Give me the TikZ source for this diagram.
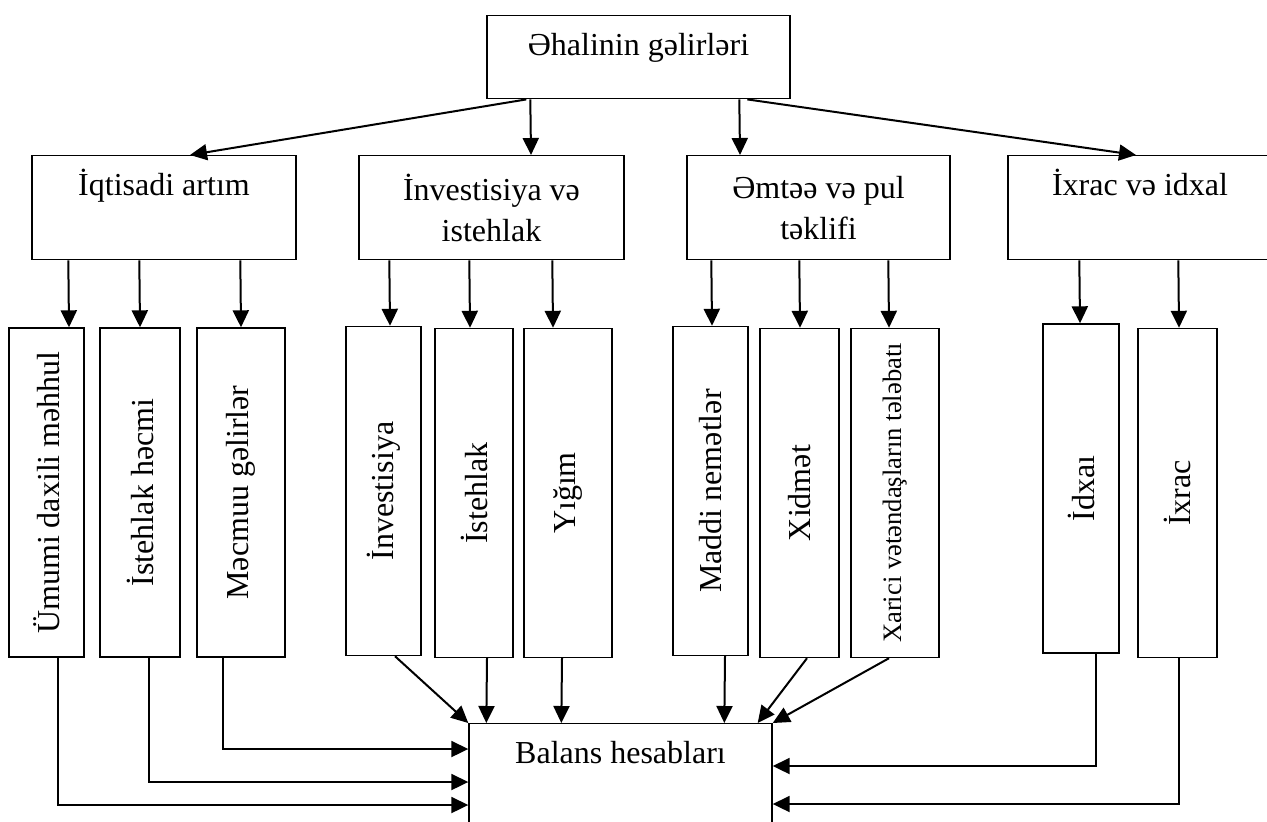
\documentclass[tikz,border=0pt]{standalone}
\usepackage{fontspec}
\setmainfont{Liberation Serif}
\usetikzlibrary{arrows.meta,calc}

\tikzset{
  box/.style={draw, line width=0.7pt, inner sep=0pt, align=center},
  topbox/.style={box, anchor=north, text height=20pt, text depth=#1},
  vbox/.style={draw, line width=0.7pt, inner sep=0pt, rotate=90, minimum width=164.5pt},
  arr/.style={line width=1pt, -{Triangle[length=8.5pt,width=8pt]}},
}

\begin{document}
\begin{tikzpicture}[x=0.5pt, y=-0.5pt, font=\fontsize{16}{20.5}\selectfont]
\useasboundingbox (0,0) rectangle (1267,821);

% yuxari
\node[topbox=21.5pt, minimum width=151.5pt] (gelir) at (638.5,15) {Əhalinin gəlirləri};

% ikinci sira
\node[topbox=32pt, minimum width=132pt] (artim) at (164,155) {İqtisadi artım};
\node[box, anchor=north, minimum width=132.5pt, minimum height=52pt] (invest) at (491.5,155) {İnvestisiya və\\istehlak};
\node[box, anchor=north, minimum width=131.5pt, minimum height=52pt] (emtee) at (818.5,155) {Əmtəə və pul\\təklifi};
\node[topbox=32pt, minimum width=132pt] (xarici) at (1140,155) {İxrac və idxal};

% ucuncu sira
\node[vbox, minimum height=37.5pt] (umumi) at (46.5,492.5) {Ümumi daxili məhhul};
\node[vbox, minimum height=40pt] (hecm) at (140,492.5) {İstehlak həcmi};
\node[vbox, minimum height=44pt] (mecmu) at (241,492.5) {Məcmuu gəlirlər};
\node[vbox, minimum height=37.5pt] (invsub) at (383.5,491) {İnvestisiya};
\node[vbox, minimum height=39pt] (istehlak) at (474,493) {İstehlak};
\node[vbox, minimum height=44pt] (yigim) at (568,493) {Yığım};
\node[vbox, minimum height=37.5pt] (maddi) at (710.5,491) {Maddi nemətlər};
\node[vbox, minimum height=39.5pt] (xidmet) at (799.5,493) {Xidmət};
\node[vbox, minimum height=44pt, font=\fontsize{13.3}{16}\selectfont] (telebat) at (895,493) {Xarici vətəndaşların tələbatı};
\node[vbox, minimum height=38pt] (idxal) at (1081,488.5) {İdxaı};
\node[vbox, minimum height=39.5pt] (ixrac) at (1177.5,493) {İxrac};

% asagi
\node[topbox=36pt, minimum width=151.5pt] (balans) at (620.5,723) {Balans hesabları};

% yuxaridan
\draw[arr] ($(gelir.south west)+(40,0)$) -- ($(artim.north)+(26,0)$);
\draw[arr] ($(gelir.south west)+(44,0)$) -- ($(invest.north)+(39.5,0)$);
\draw[arr] ($(gelir.south west)+(253,0)$) -- ($(emtee.north)+(-78.5,0)$);
\draw[arr] ($(gelir.south west)+(261,0)$) -- ($(xarici.north)+(-4,0)$);

% ikinci siradan
\draw[arr] ($(artim.south west)+(37,0)$) -- ($(umumi.east)+(22.5,0)$);
\draw[arr] ($(artim.south west)+(108,0)$) -- (hecm.east);
\draw[arr] ($(artim.south west)+(209,0)$) -- (mecmu.east);
\draw[arr] ($(invest.south west)+(31,0)$) -- ($(invsub.east)+(6.5,0)$);
\draw[arr] ($(invest.south west)+(111,0)$) -- ($(istehlak.east)+(-4,0)$);
\draw[arr] ($(invest.south west)+(194,0)$) -- ($(yigim.east)+(-15,0)$);
\draw[arr] ($(emtee.south west)+(25,0)$) -- ($(maddi.east)+(1.5,0)$);
\draw[arr] ($(emtee.south west)+(113,0)$) -- ($(xidmet.east)+(0.5,0)$);
\draw[arr] ($(emtee.south west)+(202,0)$) -- ($(telebat.east)+(-6,0)$);
\draw[arr] ($(xarici.south west)+(72,0)$) -- ($(idxal.east)+(-1,0)$);
\draw[arr] ($(xarici.south west)+(171,0)$) -- ($(ixrac.east)+(1.5,0)$);

% balansa
\draw[arr] ($(umumi.west)+(11.5,0)$) |- ($(balans.north west)+(0,82)$);
\draw[arr] ($(hecm.west)+(9,0)$) |- ($(balans.north west)+(0,59)$);
\draw[arr] ($(mecmu.west)+(-18,0)$) |- ($(balans.north west)+(0,26)$);
\draw[arr] ($(invsub.west)+(11.5,0)$) -- (balans.north west);
\draw[arr] ($(istehlak.west)+(13,0)$) -- ($(balans.north west)+(18,0)$);
\draw[arr] ($(yigim.west)+(-6,0)$) -- ($(balans.north west)+(93,0)$);
\draw[arr] ($(maddi.west)+(14.5,0)$) -- ($(balans.north west)+(256,0)$);
\draw[arr] ($(xidmet.west)+(7.5,0)$) -- ($(balans.north east)+(-15,0)$);
\draw[arr] ($(telebat.west)+(-6,0)$) -- (balans.north east);
\draw[arr] ($(idxal.west)+(15,0)$) |- ($(balans.north east)+(0,43)$);
\draw[arr] ($(ixrac.west)+(1.5,0)$) |- ($(balans.north east)+(0,81)$);
\end{tikzpicture}
\end{document}
